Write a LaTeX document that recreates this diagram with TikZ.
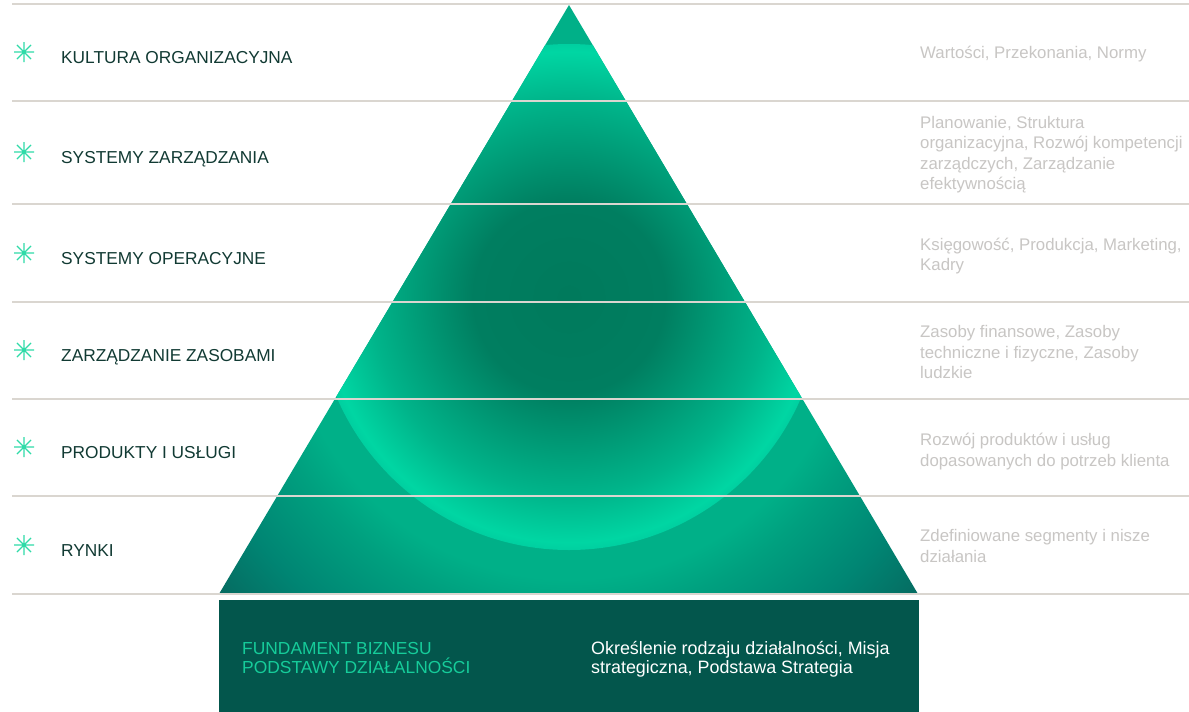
\documentclass[tikz,border=0pt]{standalone}
\usepackage{fontspec}
\setmainfont{Liberation Sans}
\definecolor{lineC}{HTML}{DAD6D0}
\definecolor{labC}{HTML}{113A33}
\definecolor{grayT}{HTML}{C8C6C4}
\definecolor{starC}{HTML}{2FDBA8}
\definecolor{baseC}{HTML}{03564C}
\definecolor{baseG}{HTML}{16CC9A}
\definecolor{ga}{HTML}{007A5C}
\definecolor{gb}{HTML}{007E60}
\definecolor{gc}{HTML}{00B48A}
\definecolor{gd}{HTML}{00D6A3}
\definecolor{ge}{HTML}{00CFA0}
\definecolor{oa}{HTML}{00B088}
\definecolor{ob}{HTML}{00A07F}
\definecolor{oc}{HTML}{008573}
\definecolor{od}{HTML}{066A60}
\pgfdeclareradialshading{innerglow}{\pgfpointorigin}{color(0bp)=(ga); color(9.5bp)=(gb); color(19.5bp)=(gc); color(24.25bp)=(gd); color(25bp)=(ge); color(50bp)=(ge)}
\pgfdeclareradialshading{outerglow}{\pgfpointorigin}{color(0bp)=(oa); color(15bp)=(oa); color(17bp)=(ob); color(21bp)=(oc); color(24.5bp)=(od); color(25bp)=(od); color(50bp)=(od)}
\tikzset{
  sepline/.style={draw=lineC, line width=2pt},
  lab/.style={anchor=base west, inner sep=0pt, text=labC, font=\fontsize{17.3}{20}\selectfont},
  desc/.style={anchor=base west, inner sep=0pt, text=grayT, font=\fontsize{16.8}{20.5}\selectfont},
  starline/.style={draw=starC, line width=1.1pt},
  astr/.pic={\draw[starline] (-10,0)--(10,0) (0,-10)--(0,10) (-7.07,-7.07)--(7.07,7.07) (-7.07,7.07)--(7.07,-7.07);},
  basebox/.style={fill=baseC, inner sep=0pt, anchor=north west, minimum width=700pt, minimum height=112pt},
  basehead/.style={anchor=base west, inner sep=0pt, text=baseG, font=\fontsize{17.4}{19.5}\selectfont},
  basetext/.style={anchor=base west, inner sep=0pt, text=white, font=\fontsize{17.9}{19.5}\selectfont}
}
\newcommand{\desctext}[1]{\parbox[t]{268pt}{\raggedright #1}}
\begin{document}
\begin{tikzpicture}[x=1pt,y=-1pt]
\useasboundingbox (0,0) rectangle (1189,712);
\fill[white] (0,0) rectangle (1189,712);

% pyramid
\coordinate (apex) at (569,5);
\coordinate (bl) at (219,594);
\coordinate (br) at (918,594);
\coordinate (glow) at (569,297);
\begin{scope}
  \clip (apex) -- (br) -- (bl) -- cycle;
  \shade[shading=outerglow] (glow) circle (470pt);
  \shade[shading=innerglow] (glow) circle (253pt);
\end{scope}

% separators
\foreach \y in {3.5,100.5,203.5,301.5,398.5,495.5,593.5}
  \draw[sepline] (12,\y) -- (1189,\y);

% stars
\pic at (24,52) {astr};
\pic at (24,152) {astr};
\pic at (24,253) {astr};
\pic at (24,350) {astr};
\pic at (24,447) {astr};
\pic at (24,545) {astr};

% labels
\node[lab] (l1) at (61,63) {KULTURA ORGANIZACYJNA};
\node[lab] (l2) at (61,163) {SYSTEMY ZARZĄDZANIA};
\node[lab] (l3) at (61,264) {SYSTEMY OPERACYJNE};
\node[lab] (l4) at (61,361) {ZARZĄDZANIE ZASOBAMI};
\node[lab] (l5) at (61,458) {PRODUKTY I USŁUGI};
\node[lab] (l6) at (61,556) {RYNKI};

% descriptions
\node[desc] (d1) at (920,58) {\desctext{Wartości, Przekonania, Normy}};
\node[desc] (d2) at (920,128.3) {\desctext{Planowanie, Struktura\\organizacyjna, Rozwój kompetencji\\zarządczych, Zarządzanie\\efektywnością}};
\node[desc] (d3) at (920,250) {\desctext{Księgowość, Produkcja, Marketing,\\Kadry}};
\node[desc] (d4) at (920,337.7) {\desctext{Zasoby finansowe, Zasoby\\techniczne i fizyczne, Zasoby\\ludzkie}};
\node[desc] (d5) at (920,445.7) {\desctext{Rozwój produktów i usług\\dopasowanych do potrzeb klienta}};
\node[desc] (d6) at (920,541.7) {\desctext{Zdefiniowane segmenty i nisze\\działania}};

% foundation
\node[basebox] (found) at (219,600) {};
\node[basehead] (fh) at (242,654) {\parbox[t]{330pt}{FUNDAMENT BIZNESU\\PODSTAWY DZIAŁALNOŚCI}};
\node[basetext] (ft) at (591,654) {\parbox[t]{320pt}{Określenie rodzaju działalności, Misja\\strategiczna, Podstawa Strategia}};
\end{tikzpicture}
\end{document}
